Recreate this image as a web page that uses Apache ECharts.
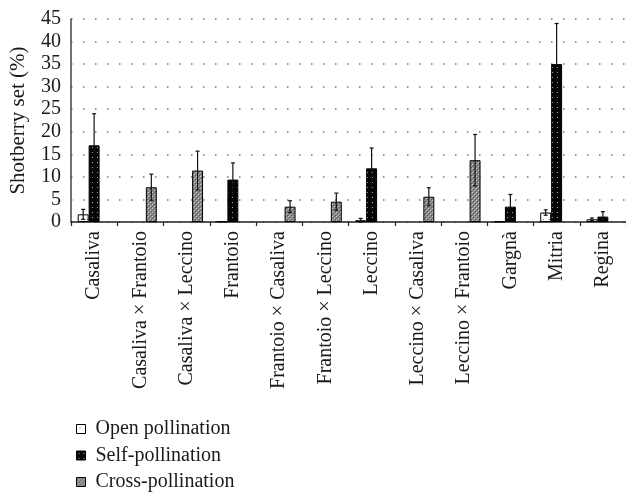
<!DOCTYPE html>
<html>
<head>
<meta charset="utf-8">
<script src="https://cdn.jsdelivr.net/npm/echarts@6/dist/echarts.min.js"></script>
<style>
html,body{margin:0;padding:0;background:#fff;}
#chart{width:626px;height:493px;}
</style>
</head>
<body>
<div id="chart"></div>
<script>
const categories = ['Casaliva','Casaliva × Frantoio','Casaliva × Leccino','Frantoio','Frantoio × Casaliva','Frantoio × Leccino','Leccino','Leccino × Casaliva','Leccino × Frantoio','Gargnà','Mitria','Regina'];
const seriesNames = ['Open pollination','Self-pollination','Cross-pollination'];
const openValues = [1.7, null, null, 0.1, null, null, 0.4, null, null, 0.1, 2.1, 0.6];
const openErrors = [1.1, null, null, 0, null, null, 0.4, null, null, 0, 0.6, 0.3];
const selfValues = [17.0, null, null, 9.4, null, null, 11.9, null, null, 3.4, 35.0, 1.2];
const selfErrors = [7.0, null, null, 3.7, null, null, 4.5, null, null, 2.7, 9.0, 1.1];
const crossValues = [null, 7.7, 11.4, null, 3.4, 4.5, null, 5.6, 13.7, null, null, null];
const crossErrors = [null, 2.9, 4.3, null, 1.3, 1.9, null, 2.0, 5.7, null, null, null];
const yTicks = [0, 5, 10, 15, 20, 25, 30, 35, 40, 45];

const FONT = '"Liberation Serif", "DejaVu Serif", serif';
const CAT_GAP = 0.29;

function makePattern(size, bg, dots) {
  const c = document.createElement('canvas');
  c.width = size; c.height = size;
  const g = c.getContext('2d');
  g.fillStyle = bg; g.fillRect(0, 0, size, size);
  dots.forEach(d => { g.fillStyle = d[2]; g.fillRect(d[0], d[1], d[3] || 1, d[3] || 1); });
  return { image: c, repeat: 'repeat' };
}
const openPattern = makePattern(6, '#ffffff', [[3, 3, '#777', 1]]);
const selfPattern = makePattern(5, '#050505', [[2, 2, '#aaaaaa', 1]]);
const crossPattern = makePattern(4, '#8c8c8c', [[0,0,'#c9c9c9'],[2,2,'#c9c9c9'],[1,1,'#555'],[3,3,'#555'],[2,0,'#777'],[0,2,'#777']]);
const patterns = [openPattern, selfPattern, crossPattern];
const valueSets = [openValues, selfValues, crossValues];
const errorSets = [openErrors, selfErrors, crossErrors];

function errorSeries(sIdx) {
  const data = [];
  valueSets[sIdx].forEach((v, i) => {
    const e = errorSets[sIdx][i];
    if (v != null && e) data.push([i, v, e]);
  });
  return {
    type: 'custom',
    name: seriesNames[sIdx] + ' error',
    z: 10,
    silent: true,
    data: data,
    encode: { x: 0, y: 1 },
    renderItem: function (params, api) {
      const i = api.value(0), v = api.value(1), e = api.value(2);
      const band = api.size([1, 0])[0];
      const w = band * (1 - CAT_GAP) / 3;
      const cx = api.coord([i, 0])[0] + (sIdx - 1) * w;
      const yTop = api.coord([i, v + e])[1];
      const yBot = api.coord([i, Math.max(0, v - e)])[1];
      const cap = 2;
      const st = { stroke: '#111', lineWidth: 1.2 };
      return {
        type: 'group',
        children: [
          { type: 'line', shape: { x1: cx, y1: yTop, x2: cx, y2: yBot }, style: st },
          { type: 'line', shape: { x1: cx - cap, y1: yTop, x2: cx + cap, y2: yTop }, style: st },
          { type: 'line', shape: { x1: cx - cap, y1: yBot, x2: cx + cap, y2: yBot }, style: st }
        ]
      };
    }
  };
}

const barSeries = seriesNames.map((name, k) => ({
  name: name,
  type: 'bar',
  data: valueSets[k],
  barGap: '0%',
  barCategoryGap: (CAT_GAP * 100) + '%',
  itemStyle: { color: patterns[k], borderColor: '#000', borderWidth: 1 },
  z: 5
}));

const chart = echarts.init(document.getElementById('chart'), null, { renderer: 'canvas' });
chart.setOption({
  animation: false,
  backgroundColor: '#ffffff',
  textStyle: { fontFamily: FONT },
  grid: { left: 71, top: 19, width: 559, height: 203, containLabel: false },
  legend: {
    data: seriesNames,
    orient: 'vertical',
    left: 76,
    top: 419,
    height: 80,
    padding: 0,
    itemWidth: 9,
    itemHeight: 9,
    itemGap: 6.5,
    icon: 'rect',
    textStyle: { fontFamily: FONT, fontSize: 20, lineHeight: 20, color: '#1a1a1a', padding: [0, 0, 0, 5] },
    itemStyle: { borderColor: '#000', borderWidth: 1 }
  },
  xAxis: {
    type: 'category',
    data: categories,
    axisLine: { lineStyle: { color: '#222', width: 1.5 } },
    axisTick: { show: true, length: 4, lineStyle: { color: '#222', width: 1.2 } },
    axisLabel: { rotate: 90, margin: 9, fontFamily: FONT, fontSize: 20, color: '#1a1a1a', interval: 0 },
    splitLine: { show: false }
  },
  yAxis: {
    type: 'value',
    min: yTicks[0],
    max: yTicks[yTicks.length - 1],
    interval: 5,
    name: 'Shotberry set (%)',
    nameLocation: 'middle',
    nameGap: 42,
    nameTextStyle: { fontFamily: FONT, fontSize: 21, color: '#1a1a1a' },
    axisLine: { show: true, lineStyle: { color: '#444', width: 1.5 } },
    axisTick: { show: false },
    axisLabel: { margin: 10, fontFamily: FONT, fontSize: 20, color: '#1a1a1a' },
    splitLine: { show: true, lineStyle: { color: '#777', width: 1.5, type: [1.5, 10.5] } }
  },
  series: barSeries.concat([errorSeries(0), errorSeries(1), errorSeries(2)])
});
</script>
</body>
</html>
